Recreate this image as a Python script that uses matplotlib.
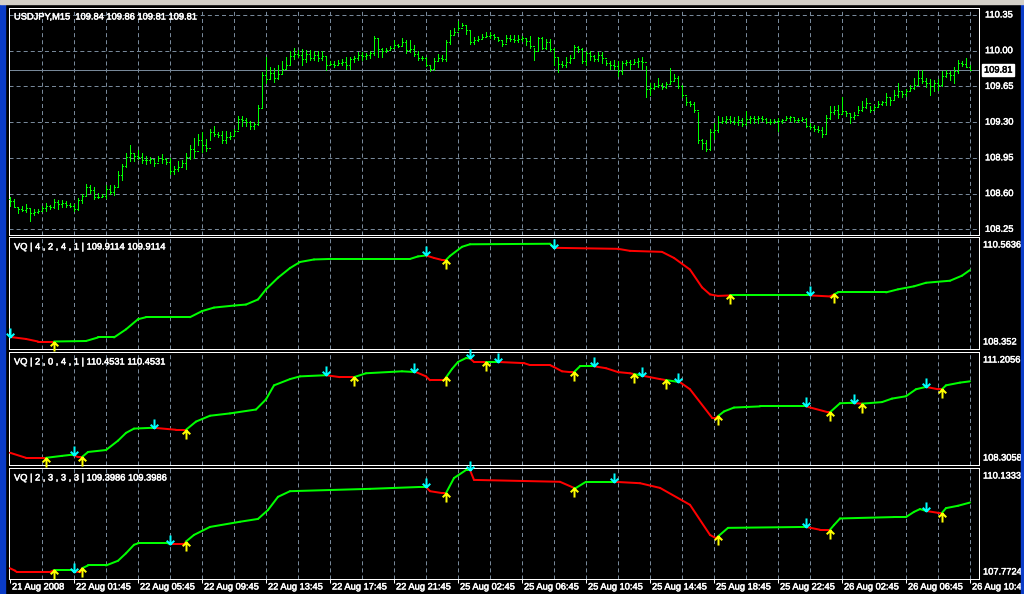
import numpy as np
import matplotlib.pyplot as plt
import matplotlib.patheffects as pe
from matplotlib.collections import LineCollection
from matplotlib.markers import MarkerStyle
from matplotlib.path import Path
from matplotlib.patches import Rectangle

plt.rcParams['lines.scale_dashes'] = False
FONT = ['Liberation Sans', 'DejaVu Sans']
FS = 6.7

# ---------------- data (USDJPY M15, 241 bars) ----------------
time_labels = ["21 Aug 2008", "22 Aug 01:45", "22 Aug 05:45", "22 Aug 09:45",
               "22 Aug 13:45", "22 Aug 17:45", "22 Aug 21:45", "25 Aug 02:45",
               "25 Aug 06:45", "25 Aug 10:45", "25 Aug 14:45", "25 Aug 18:45",
               "25 Aug 22:45", "26 Aug 02:45", "26 Aug 06:45", "26 Aug 10:45"]
price_levels = [108.25, 108.60, 108.95, 109.30, 109.65, 110.00, 110.35]

highs = [108.57, 108.55, 108.47, 108.48, 108.50, 108.45, 108.45, 108.45, 108.48, 108.51,
         108.49, 108.55, 108.54, 108.54, 108.53, 108.51, 108.50, 108.56, 108.60, 108.69,
         108.68, 108.66, 108.61, 108.60, 108.68, 108.68, 108.68, 108.82, 108.89, 109.00,
         109.08, 109.00, 109.03, 109.00, 108.97, 108.96, 108.94, 108.97, 108.99, 108.95,
         108.95, 108.87, 108.92, 108.93, 109.00, 109.08, 109.14, 109.18, 109.20, 109.13,
         109.23, 109.26, 109.20, 109.21, 109.21, 109.20, 109.23, 109.36, 109.36, 109.34,
         109.31, 109.30, 109.47, 109.79, 109.94, 109.84, 109.83, 109.86, 109.90, 109.94,
         110.00, 110.03, 110.01, 110.02, 110.01, 110.01, 110.00, 110.00, 110.00, 109.94,
         109.90, 109.90, 109.91, 109.92, 109.94, 109.94, 109.95, 109.99, 109.99, 109.98,
         110.00, 110.14, 110.12, 110.03, 110.03, 110.05, 110.10, 110.07, 110.12, 110.10,
         110.10, 110.06, 110.00, 109.95, 109.94, 109.86, 109.93, 109.97, 109.96, 110.10,
         110.20, 110.22, 110.29, 110.27, 110.25, 110.19, 110.13, 110.14, 110.16, 110.18,
         110.18, 110.16, 110.13, 110.10, 110.15, 110.15, 110.15, 110.15, 110.14, 110.12,
         110.14, 110.03, 110.13, 110.13, 110.11, 110.11, 110.03, 109.94, 109.90, 109.94,
         109.96, 110.06, 110.05, 110.03, 110.00, 110.00, 109.96, 109.99, 109.99, 109.91,
         109.90, 109.91, 109.90, 109.90, 109.91, 109.91, 109.92, 109.93, 109.94, 109.85,
         109.68, 109.68, 109.73, 109.68, 109.69, 109.83, 109.77, 109.75, 109.66, 109.55,
         109.51, 109.50, 109.40, 109.13, 109.12, 109.23, 109.29, 109.36, 109.35, 109.36,
         109.36, 109.35, 109.36, 109.34, 109.41, 109.36, 109.36, 109.36, 109.36, 109.34,
         109.33, 109.33, 109.34, 109.33, 109.36, 109.36, 109.35, 109.34, 109.35, 109.34,
         109.29, 109.27, 109.26, 109.25, 109.37, 109.46, 109.46, 109.47, 109.55, 109.41,
         109.39, 109.40, 109.46, 109.51, 109.54, 109.46, 109.47, 109.51, 109.51, 109.59,
         109.55, 109.61, 109.68, 109.60, 109.62, 109.66, 109.73, 109.81, 109.81, 109.73,
         109.72, 109.71, 109.72, 109.80, 109.81, 109.80, 109.84, 109.91, 109.90, 109.93,
         109.86]
lows = [108.48, 108.47, 108.41, 108.43, 108.42, 108.33, 108.39, 108.41, 108.43, 108.43,
        108.45, 108.46, 108.45, 108.47, 108.47, 108.47, 108.43, 108.44, 108.51, 108.59,
        108.61, 108.55, 108.56, 108.57, 108.56, 108.60, 108.59, 108.66, 108.73, 108.86,
        108.92, 108.92, 108.94, 108.90, 108.89, 108.90, 108.87, 108.92, 108.90, 108.89,
        108.79, 108.79, 108.82, 108.86, 108.84, 108.94, 108.95, 109.08, 109.01, 109.02,
        109.12, 109.16, 109.15, 109.10, 109.10, 109.13, 109.16, 109.23, 109.26, 109.26,
        109.23, 109.23, 109.27, 109.45, 109.68, 109.72, 109.69, 109.72, 109.77, 109.83,
        109.86, 109.92, 109.94, 109.86, 109.89, 109.91, 109.91, 109.90, 109.91, 109.81,
        109.86, 109.84, 109.86, 109.86, 109.82, 109.82, 109.89, 109.91, 109.91, 109.92,
        109.93, 109.96, 109.94, 109.94, 109.99, 110.01, 110.03, 110.04, 110.06, 109.98,
        109.99, 109.95, 109.91, 109.91, 109.85, 109.80, 109.81, 109.90, 109.90, 109.90,
        110.07, 110.16, 110.20, 110.24, 110.16, 110.07, 110.07, 110.09, 110.11, 110.13,
        110.12, 110.11, 110.09, 110.05, 110.08, 110.09, 110.08, 110.08, 110.09, 110.06,
        110.03, 109.91, 110.01, 110.02, 110.02, 110.00, 109.86, 109.79, 109.84, 109.84,
        109.88, 109.93, 109.99, 109.88, 109.86, 109.91, 109.90, 109.90, 109.88, 109.86,
        109.82, 109.82, 109.75, 109.77, 109.86, 109.82, 109.87, 109.84, 109.82, 109.55,
        109.57, 109.62, 109.64, 109.62, 109.63, 109.67, 109.71, 109.63, 109.55, 109.47,
        109.46, 109.40, 109.10, 109.04, 109.02, 109.03, 109.13, 109.20, 109.29, 109.29,
        109.29, 109.28, 109.27, 109.26, 109.27, 109.29, 109.29, 109.29, 109.31, 109.29,
        109.28, 109.29, 109.21, 109.29, 109.32, 109.31, 109.30, 109.30, 109.31, 109.25,
        109.23, 109.21, 109.20, 109.15, 109.18, 109.33, 109.38, 109.34, 109.38, 109.36,
        109.29, 109.33, 109.39, 109.41, 109.44, 109.40, 109.42, 109.45, 109.47, 109.47,
        109.47, 109.53, 109.55, 109.55, 109.56, 109.60, 109.62, 109.66, 109.68, 109.64,
        109.57, 109.60, 109.61, 109.65, 109.74, 109.71, 109.68, 109.78, 109.85, 109.84,
        109.81]
closes = [108.53, 108.47, 108.45, 108.44, 108.46, 108.41, 108.42, 108.43, 108.46, 108.48,
          108.47, 108.52, 108.50, 108.51, 108.49, 108.48, 108.45, 108.54, 108.58, 108.66,
          108.63, 108.57, 108.57, 108.58, 108.64, 108.62, 108.66, 108.78, 108.87, 108.96,
          109.00, 108.97, 108.96, 108.93, 108.93, 108.94, 108.90, 108.95, 108.94, 108.91,
          108.82, 108.84, 108.86, 108.90, 108.96, 109.04, 109.02, 109.12, 109.08, 109.05,
          109.20, 109.18, 109.17, 109.12, 109.15, 109.16, 109.21, 109.33, 109.32, 109.30,
          109.26, 109.28, 109.44, 109.76, 109.72, 109.78, 109.73, 109.77, 109.82, 109.86,
          109.95, 109.97, 109.96, 109.92, 109.97, 109.93, 109.96, 109.93, 109.95, 109.86,
          109.87, 109.86, 109.88, 109.89, 109.86, 109.92, 109.93, 109.96, 109.95, 109.96,
          109.98, 110.12, 110.02, 110.00, 110.01, 110.03, 110.06, 110.05, 110.08, 110.01,
          110.02, 109.97, 109.93, 109.93, 109.86, 109.82, 109.90, 109.93, 109.92, 110.08,
          110.15, 110.18, 110.22, 110.25, 110.20, 110.08, 110.10, 110.11, 110.13, 110.14,
          110.15, 110.13, 110.10, 110.07, 110.12, 110.11, 110.10, 110.11, 110.12, 110.09,
          110.05, 110.00, 110.12, 110.03, 110.08, 110.02, 109.94, 109.87, 109.86, 109.89,
          109.93, 110.04, 110.02, 109.90, 109.98, 109.95, 109.92, 109.96, 109.93, 109.88,
          109.86, 109.85, 109.80, 109.88, 109.89, 109.87, 109.89, 109.90, 109.89, 109.62,
          109.63, 109.65, 109.66, 109.64, 109.67, 109.70, 109.73, 109.65, 109.57, 109.50,
          109.48, 109.42, 109.12, 109.10, 109.04, 109.20, 109.22, 109.30, 109.31, 109.33,
          109.31, 109.30, 109.32, 109.28, 109.33, 109.34, 109.33, 109.34, 109.33, 109.30,
          109.30, 109.31, 109.31, 109.32, 109.34, 109.35, 109.32, 109.32, 109.33, 109.26,
          109.25, 109.23, 109.22, 109.18, 109.34, 109.40, 109.42, 109.38, 109.41, 109.39,
          109.35, 109.37, 109.42, 109.45, 109.49, 109.42, 109.45, 109.48, 109.50, 109.55,
          109.52, 109.57, 109.60, 109.58, 109.60, 109.63, 109.66, 109.73, 109.70, 109.68,
          109.65, 109.68, 109.66, 109.75, 109.78, 109.76, 109.80, 109.88, 109.87, 109.84,
          109.81]
first_open = 108.55
header_ohlc = "109.84 109.86 109.81 109.81"

# VQ indicator lines: (bar index, value) vertices, signal bars and scale
vq_names = ["VQ | 4 , 2 , 4 , 1 |", "VQ | 2 , 0 , 4 , 1 |", "VQ | 2 , 3 , 3 , 3 |"]
vq_last = [109.9114, 110.4531, 109.3986]
vq_range = [(108.352, 110.5636), (108.3058, 111.2056), (107.7724, 110.1333)]

vq1_x = [0, 4, 7, 11, 19, 22, 26, 29, 32, 34, 45, 48, 51, 56, 59, 62, 64, 67, 70, 72.5,
         76, 80, 100, 102, 104, 106, 108, 109, 110, 113, 115, 135, 136, 152, 155, 163, 166,
         170, 173, 175, 177, 180, 200, 205, 207, 219, 222, 226, 229, 235, 238, 240]
vq1_y = [108.59, 108.55, 108.50, 108.50, 108.51, 108.58, 108.58, 108.74, 108.94, 108.98,
         108.98, 109.10, 109.17, 109.21, 109.23, 109.33, 109.53, 109.76, 109.95, 110.07,
         110.12, 110.13, 110.13, 110.18, 110.20, 110.15, 110.11, 110.11, 110.19, 110.37,
         110.42, 110.43, 110.35, 110.33, 110.29, 110.27, 110.15, 109.92, 109.57, 109.43,
         109.40, 109.41, 109.41, 109.39, 109.47, 109.47, 109.53, 109.59, 109.66, 109.70,
         109.80, 109.9114]
vq1_down = [0, 104, 136, 200]
vq1_up = [11, 109, 180, 206]

vq2_x = [0, 4, 9, 13, 15.5, 17, 18, 19.5, 24, 27, 29, 31, 35.5, 36, 41.5, 44, 46.5, 50, 55,
         61.5, 64, 66, 70, 72.5, 79, 82.5, 86, 89, 98, 101.5, 104, 105, 108.5, 110.5, 112,
         114, 115, 116, 119, 122, 128.5, 130, 135, 136, 138, 140, 141, 142.5, 146, 149, 152,
         155, 157.5, 162.5, 167.5, 170, 175.5, 176.5, 178.5, 181, 187.5, 199, 204.5, 205,
         207.5, 210, 213, 218, 220.5, 224, 226.5, 229, 232, 233, 234, 237.5, 240]
vq2_y = [108.62, 108.49, 108.49, 108.54, 108.57, 108.51, 108.51, 108.64, 108.69, 108.93,
         109.13, 109.24, 109.26, 109.26, 109.21, 109.21, 109.42, 109.57, 109.63, 109.73,
         109.99, 110.35, 110.51, 110.58, 110.61, 110.56, 110.56, 110.66, 110.71, 110.69,
         110.58, 110.48, 110.48, 110.77, 110.95, 111.05, 111.04, 110.95, 110.95, 110.95,
         110.92, 110.87, 110.87, 110.82, 110.71, 110.69, 110.69, 110.84, 110.84, 110.79,
         110.69, 110.66, 110.61, 110.51, 110.43, 110.25, 109.52, 109.52, 109.68, 109.78,
         109.81, 109.81, 109.66, 109.66, 109.89, 109.90, 109.88, 109.92, 110.01, 110.07,
         110.25, 110.31, 110.25, 110.25, 110.35, 110.42, 110.4531]
vq2_down = [16, 36, 79, 101, 115, 122, 146, 158, 167, 199, 211, 229]
vq2_up = [9, 18, 44, 86, 109, 119, 141, 156, 164, 177, 205, 213, 233]

vq3_x = [0, 1.25, 1.7, 10, 11, 15.5, 16, 17.5, 18, 19.5, 24, 27, 29, 31, 32, 39.5, 40, 43.5,
         44, 46, 50, 57.5, 62, 64.5, 67, 70, 90, 102.5, 104, 105, 108, 109, 111, 114, 115,
         116, 137.5, 141, 141.5, 144, 151, 157.5, 162.5, 170, 175, 176.5, 179.5, 199, 202.5,
         205, 206, 207.5, 221, 224, 226, 227.5, 229, 232, 233, 234, 237, 240]
vq3_y = [108.00, 107.95, 107.92, 107.92, 107.96, 107.96, 107.93, 107.92, 108.00, 108.06,
         108.06, 108.16, 108.32, 108.50, 108.53, 108.53, 108.51, 108.51, 108.57, 108.71,
         108.88, 108.99, 109.05, 109.24, 109.52, 109.64, 109.69, 109.73, 109.73, 109.64,
         109.60, 109.60, 109.92, 110.09, 110.09, 109.88, 109.84, 109.71, 109.71, 109.84,
         109.84, 109.81, 109.71, 109.35, 108.71, 108.64, 108.86, 108.88, 108.82, 108.82,
         108.92, 109.06, 109.09, 109.09, 109.20, 109.26, 109.22, 109.18, 109.18, 109.28,
         109.33, 109.3986]
vq3_down = [16, 40, 104, 115, 151, 199, 229]
vq3_up = [11, 18, 44, 109, 141, 177, 205, 233]

# ---------------- styling ----------------
LIME, RED, AQUA, YELLOW = '#00ff00', '#ff0000', '#00ffff', '#ffff00'
GRID = '#778899'
W, H = 1024, 594
PX = 0.72  # one pixel in points
X_LEFT, X_RIGHT = 9, 979

fig = plt.figure(figsize=(W / 100, H / 100), dpi=100)
fig.patch.set_facecolor('black')


def pane(top, bottom):
    ax = fig.add_axes([X_LEFT / W, 1 - bottom / H, (X_RIGHT - X_LEFT) / W, (bottom - top) / H])
    ax.set_facecolor('black')
    ax.set_xlim((X_LEFT - 10) / 4, (X_RIGHT - 10) / 4)
    for s in ax.spines.values():
        s.set_color('white')
        s.set_linewidth(PX)
    ax.set_xticks([])
    ax.set_yticks([])
    for g in range(8, 241, 8):
        ax.axvline(g, color=GRID, lw=PX, dashes=(2.9, 2.2), zorder=1)
    return ax


def label(ax, text, xy, off, data=False, **kw):
    kw.setdefault('color', 'white')
    # thin stroke in the text colour mimics the bitmap screen font
    stroke = [pe.withStroke(linewidth=0.35, foreground=kw['color'])]
    ax.annotate(text, xy=xy, xycoords=('axes fraction', 'data') if data else 'axes fraction',
                xytext=off, textcoords='offset pixels', fontsize=FS, family=FONT,
                va='center', annotation_clip=False, path_effects=stroke, **kw)


# arrow markers (tip at the point)
up_arrow = MarkerStyle(Path([(0, 0), (0, -1), (-0.42, -0.42), (0, 0), (0.42, -0.42)],
                            [Path.MOVETO, Path.LINETO, Path.MOVETO, Path.LINETO, Path.LINETO]))
down_arrow = MarkerStyle(Path([(0, 0), (0, 1), (-0.42, 0.42), (0, 0), (0.42, 0.42)],
                              [Path.MOVETO, Path.LINETO, Path.MOVETO, Path.LINETO, Path.LINETO]))

# ---------------- price pane ----------------
ax0 = pane(8, 235)
ax0.set_ylim(108.194, 110.418)
for p in price_levels:
    ax0.axhline(p, color=GRID, lw=PX, dashes=(2.9, 2.2), zorder=1)
    label(ax0, f"{p:.2f}", (1, p), (6, 0), data=True)

idx = np.arange(len(closes))
opens = np.array([first_open] + closes[:-1])
ax0.vlines(idx, lows, highs, colors=LIME, lw=PX, antialiased=False, zorder=3)
ax0.hlines(opens, idx - 0.3, idx, colors=LIME, lw=PX, antialiased=False, zorder=3)
ax0.hlines(closes, idx, idx + 0.3, colors=LIME, lw=PX, antialiased=False, zorder=3)
ax0.axhline(closes[-1], color=GRID, lw=PX, zorder=2)
label(ax0, f"{closes[-1]:.2f}", (1, closes[-1]), (5, 0), data=True, color='black',
      bbox=dict(boxstyle='square,pad=0.2', fc='white', ec='white'))
label(ax0, "USDJPY,M15  " + header_ohlc, (0, 1), (5, -9))

# ---------------- indicator panes ----------------
pane_px = [(237, 349), (352, 465), (468, 579)]
vq_data = [(vq1_x, vq1_y, vq1_down, vq1_up), (vq2_x, vq2_y, vq2_down, vq2_up),
           (vq3_x, vq3_y, vq3_down, vq3_up)]

axes = []
for (top, bottom), (xs, vs, downs, ups), (lo, hi), name, last in zip(
        pane_px, vq_data, vq_range, vq_names, vq_last):
    ax = pane(top, bottom)
    axes.append(ax)
    ax.set_ylim(lo, hi)
    signals = sorted([(b, RED) for b in downs] + [(b, LIME) for b in ups])
    knots = np.union1d(xs, [b for b, _ in signals])
    vals = np.interp(knots, xs, vs)
    segs, cols = [], []
    for a, b, va, vb in zip(knots[:-1], knots[1:], vals[:-1], vals[1:]):
        state = RED
        for s, c in signals:
            if s <= a:
                state = c
        segs.append([(a, va), (b, vb)])
        cols.append(state)
    ax.add_collection(LineCollection(segs, colors=cols, linewidths=2 * PX,
                                     capstyle='round', zorder=3))
    ax.plot(downs, np.interp(downs, xs, vs), ls='none', marker=down_arrow, ms=13,
            mec=AQUA, mfc='none', mew=2 * PX, zorder=4, clip_on=False)
    ax.plot(ups, np.interp(ups, xs, vs), ls='none', marker=up_arrow, ms=13,
            mec=YELLOW, mfc='none', mew=2 * PX, zorder=4, clip_on=False)
    label(ax, f"{name} {last:.4f} {last:.4f}", (0, 1), (5, -10))
    label(ax, f"{hi:.4f}".rstrip('0'), (1, 1), (4, -8))
    label(ax, f"{lo:.4f}".rstrip('0'), (1, 0), (4, 7))

# time axis under the last pane
ax_last = axes[-1]
for k, t in enumerate(time_labels):
    ax_last.annotate(t, xy=(16 * k, 0), xycoords=('data', 'axes fraction'), xytext=(2, -8),
                     textcoords='offset pixels', color='white', fontsize=FS, family=FONT,
                     va='center', ha='left', annotation_clip=False,
                     path_effects=[pe.withStroke(linewidth=0.35, foreground='white')])
ax_last.set_xticks(range(0, 241, 16))
ax_last.set_xticklabels([])
ax_last.tick_params(axis='x', direction='out', length=3, width=PX, color='white')

# window frame
fig.add_artist(Rectangle((0, 0), 5 / W, 1, transform=fig.transFigure, color='#0a3cc8', zorder=10))
fig.add_artist(Rectangle((1021 / W, 0), 3 / W, 1, transform=fig.transFigure, color='#0a3cc8', zorder=10))
fig.add_artist(Rectangle((0, 1 - 4 / H), 1, 4 / H, transform=fig.transFigure, color='#d4d0c8', zorder=10))

fig.savefig('out.png', dpi=100, facecolor='black')
